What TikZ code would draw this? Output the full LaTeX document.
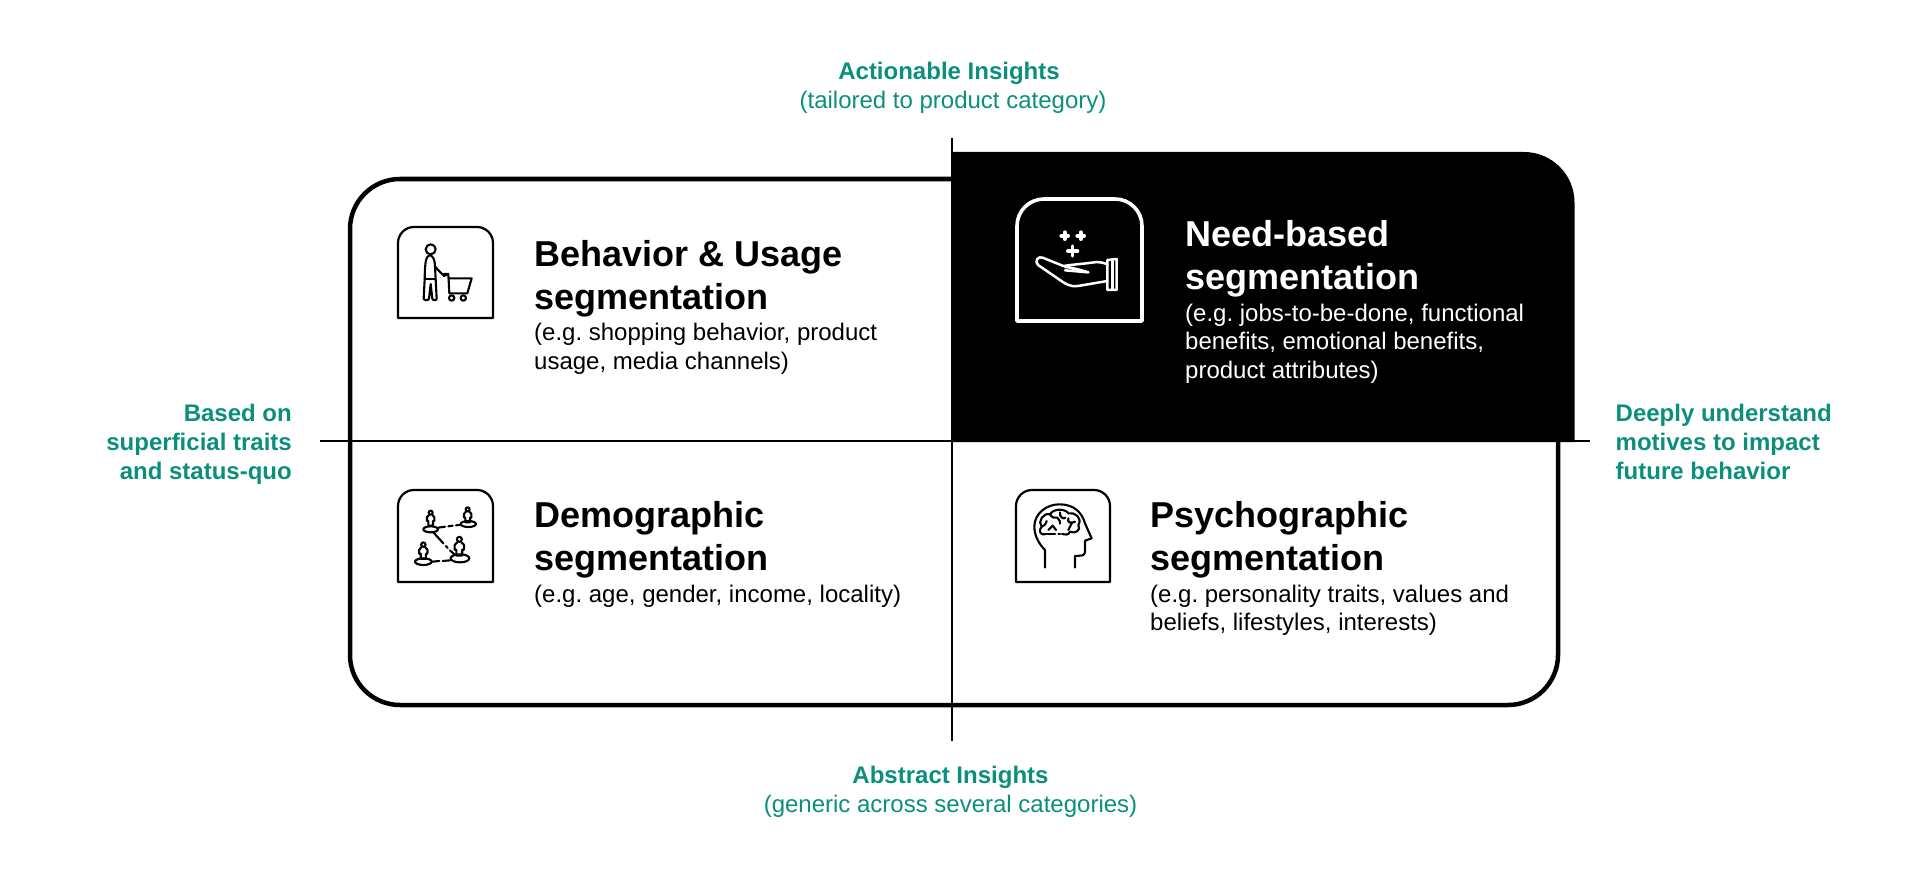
\documentclass[tikz,border=0pt]{standalone}
\usepackage{fontspec}
\setmainfont{Liberation Sans}
\frenchspacing
\definecolor{teal}{HTML}{0B8F7C}
\tikzset{
  x=1pt,y=-1pt,
  head/.style={anchor=north west,align=left,inner sep=0pt,font=\fontsize{36}{43}\selectfont\bfseries},
  body/.style={anchor=north west,align=left,inner sep=0pt,font=\fontsize{24}{28.5}\selectfont},
  note/.style={inner sep=0pt,text=teal,font=\fontsize{24}{29}\selectfont},
  axis/.style={draw=black,line width=1.6pt},
  iconbox/.style={line width=2.2pt,line join=round},
  ico/.style={line width=2.1pt,line cap=round,line join=round},
}
\newcommand{\iconframe}[5]{% x0 y0 x1 y1 r
  \draw[iconbox] (#1,#4) -- (#1,#2+#5) arc[start angle=-180,end angle=-90,radius=#5] -- (#3-#5,#2) arc[start angle=-90,end angle=0,radius=#5] -- (#3,#4) -- cycle;}
\newcommand{\person}[3]{% x y s
  \begin{scope}[shift={(#1,#2)},scale=#3]
  \draw[ico] (0,-12) circle[radius=6];
  \draw[ico] (-5,-5) .. controls (-12,-3) and (-12,4) .. (-11,13) -- (-7,13) -- (-7,27) -- (7,27) -- (7,13) -- (11,13) .. controls (12,4) and (12,-3) .. (5,-5);
  \end{scope}}
\begin{document}
\begin{tikzpicture}
\useasboundingbox (0,0) rectangle (1920,880);
% outer frame
\draw[line width=4.5pt] (952,179) -- (400,179) arc[start angle=-90,end angle=-180,radius=50] -- (350,655) arc[start angle=180,end angle=90,radius=50] -- (1508,705) arc[start angle=90,end angle=0,radius=50] -- (1558,442);
% black quadrant
\fill (952,152) -- (1524,152) arc[start angle=-90,end angle=0,radius=50.5] -- (1574.5,442) -- (952,442) -- cycle;
% axes
\coordinate (xl) at (320,441);\coordinate (xr) at (1590,441);
\coordinate (yt) at (952,138);\coordinate (yb) at (952,741);
\draw[axis] (xl) -- (xr);
\draw[axis] (yt) -- (yb);
% texts
\node[head] (bh) at (534,236) {\strut Behavior \& Usage\\segmentation};
\node[body] (bb) at (534,320.5) {\strut (e.g. shopping behavior, product\\usage, media channels)};
\node[head,text=white] (nh) at (1185,216) {\strut Need-based\\segmentation};
\node[body,text=white] (nb) at (1185,301) {\strut (e.g. jobs-to-be-done, functional\\benefits, emotional benefits,\\product attributes)};
\node[head] (dh) at (534,497.5) {\strut Demographic\\segmentation};
\node[body] (db) at (534,582) {\strut (e.g. age, gender, income, locality)};
\node[head] (ph) at (1150,497.5) {\strut Psychographic\\segmentation};
\node[body] (pb) at (1150,582) {\strut (e.g. personality traits, values and\\beliefs, lifestyles, interests)};
\node[note,align=center,anchor=north] (nt) at (950.5,59) {\strut\textbf{Actionable Insights}\hspace*{3pt}\\\hspace*{5pt}(tailored to product category)};
\node[note,align=center,anchor=north] (nbm) at (950.5,763) {\strut\textbf{Abstract Insights}\\(generic across several categories)};
\node[note,align=right,anchor=north east] (nl) at (292,401) {\strut\textbf{Based on}\\\textbf{superficial traits}\\\textbf{and status-quo}};
\node[note,align=left,anchor=north west] (nr) at (1615.5,401) {\strut\textbf{Deeply understand}\\\textbf{motives to impact}\\\textbf{future behavior}};
% icon 1
\iconframe{398}{227}{493}{318}{16}
\begin{scope}[shift={(380,210)},scale=1/3,ico]
\draw (152,118) circle[radius=15];
\draw (150,135) .. controls (138,140) and (135,150) .. (134,208) -- (131,266) .. controls (132,272) and (146,272) .. (147,266) -- (152,222) -- (157,266) .. controls (158,272) and (170,272) .. (170,266) -- (167,208) -- (165,170) -- (192,198) -- (205,192);
\draw (150,135) .. controls (160,140) and (165,150) .. (165,170);
\draw (134,208) -- (167,208);
\draw (192,192) -- (205,192) -- (208,250) -- (262,250) -- (275,205) -- (205,205);
\draw (215,264) circle[radius=8];
\draw (250,264) circle[radius=8];
\end{scope}
% icon 2
\draw[iconbox,draw=white,line width=3.6pt] (1017,321) -- (1017,226) arc[start angle=-180,end angle=-90,radius=27] -- (1115,199) arc[start angle=-90,end angle=0,radius=27] -- (1142,321) -- cycle;
\begin{scope}[shift={(1000,185)},scale=1/3,line width=2.5pt,line cap=round,line join=round,draw=white]
\draw (128,218) .. controls (115,212) and (102,228) .. (114,240) -- (190,292) .. controls (210,305) and (225,305) .. (240,302) -- (322,288);
\draw (128,218) -- (190,243) .. controls (210,240) and (230,238) .. (250,236) .. controls (275,234) and (295,226) .. (322,238);
\draw (195,246) .. controls (220,248) and (245,256) .. (265,262) -- (195,256);
\draw (322,225) -- (322,315) -- (350,315) -- (350,222) -- cycle;
\draw (338,228) -- (338,312);
\draw[line width=3.2pt] (203,198) -- (233,198) (218,183) -- (218,213);
\draw[line width=4pt] (184,152) -- (204,152) (194,142) -- (194,162);
\draw[line width=4pt] (232,152) -- (252,152) (242,142) -- (242,162);
\end{scope}
% icon 3
\iconframe{398}{490}{493}{582}{16}
\begin{scope}[shift={(380,475)},scale=1/3,ico]
\person{152}{125}{1}
\person{263}{115}{1}
\person{130}{222}{1.1}
\person{238}{208}{1.25}
\draw (152,163) ellipse[x radius=22,y radius=9];
\draw (265,147) ellipse[x radius=23,y radius=9];
\draw (130,260) ellipse[x radius=25,y radius=10];
\draw (240,250) ellipse[x radius=28,y radius=12];
\draw (175,158) -- (195,155) (205,154) -- (218,152) (228,151) -- (240,150);
\draw (160,172) -- (190,205) (198,213) -- (203,219) (210,226) -- (225,240);
\draw (157,260) -- (178,258) (188,258) -- (210,256);
\end{scope}
% icon 4
\iconframe{1016}{490}{1110}{582}{16}
\begin{scope}[shift={(1000,475)},scale=1/3,ico]
\draw (135,278) -- (135,225) .. controls (115,205) and (103,180) .. (103,155) .. controls (103,115) and (140,88) .. (178,88) .. controls (220,88) and (245,110) .. (255,145) -- (275,190) -- (255,197) -- (255,228) .. controls (255,238) and (250,242) .. (240,242) -- (225,243) -- (225,278);
\draw (135,178) .. controls (120,182) and (115,165) .. (125,155) .. controls (112,140) and (130,112) .. (150,118) .. controls (160,100) and (195,100) .. (205,115) .. controls (225,110) and (248,130) .. (235,150) .. controls (245,165) and (225,178) .. (210,170) .. controls (205,182) and (195,178) .. (190,178);
\draw (135,178) -- (165,178) (175,178) -- (180,178) (186,178) -- (190,178);
\draw (150,118) .. controls (155,128) and (165,130) .. (172,128) (180,112) .. controls (178,125) and (190,135) .. (196,128);
\draw (172,128) .. controls (178,135) and (182,140) .. (180,146) (205,130) .. controls (200,145) and (215,145) .. (225,140) (215,145) -- (205,165);
\draw (145,165) -- (158,152) -- (168,165) (125,155) .. controls (135,150) and (140,145) .. (140,138);
\end{scope}
\end{tikzpicture}
\end{document}
